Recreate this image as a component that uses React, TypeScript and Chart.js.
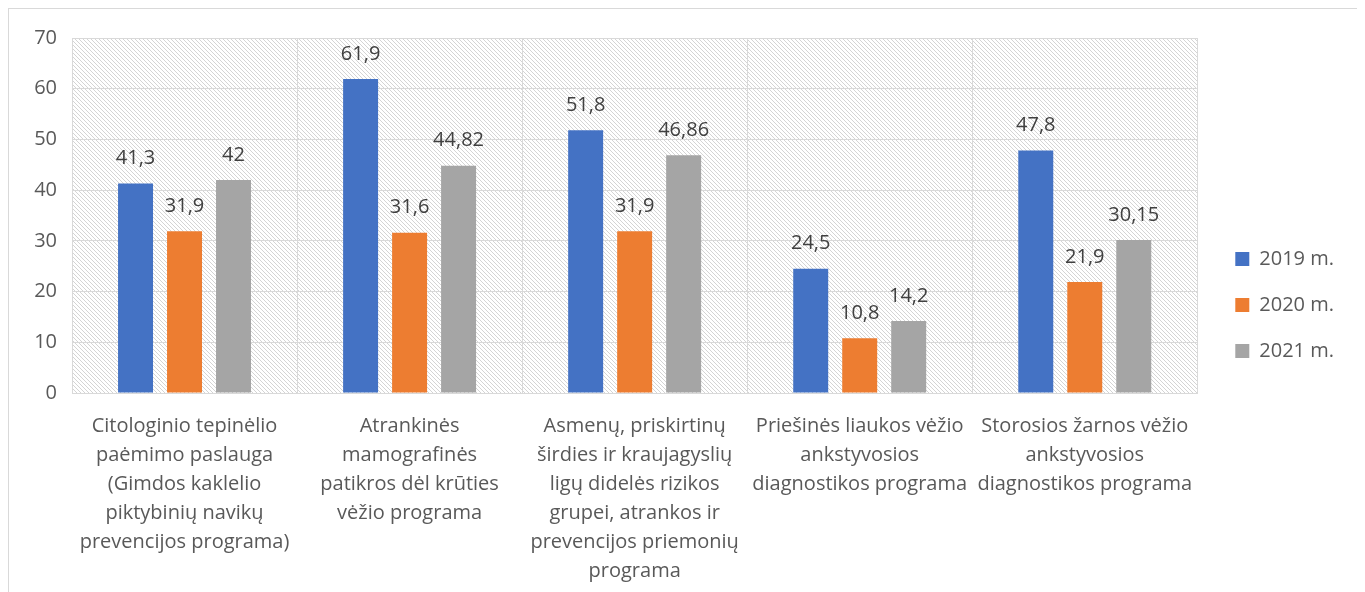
import React, { useEffect, useRef } from "react";
import { Chart, registerables } from "chart.js";

Chart.register(...registerables);

const categories: string[][] = [
  ["Citologinio tepinėlio", "paėmimo paslauga", "(Gimdos kaklelio", "piktybinių navikų", "prevencijos programa)"],
  ["Atrankinės", "mamografinės", "patikros dėl krūties", "vėžio programa"],
  ["Asmenų, priskirtinų", "širdies ir kraujagyslių", "ligų didelės rizikos", "grupei, atrankos ir", "prevencijos priemonių", "programa"],
  ["Priešinės liaukos vėžio", "ankstyvosios", "diagnostikos programa"],
  ["Storosios žarnos vėžio", "ankstyvosios", "diagnostikos programa"],
];

const seriesNames = ["2019 m.", "2020 m.", "2021 m."];
const values2019 = [41.3, 61.9, 51.8, 24.5, 47.8];
const values2020 = [31.9, 31.6, 31.9, 10.8, 21.9];
const values2021 = [42, 44.82, 46.86, 14.2, 30.15];
const seriesColors = ["#4472C4", "#ED7D31", "#A5A5A5"];

const yMin = 0;
const yMax = 70;
const yStep = 10;

const FONT = "'Open Sans', sans-serif";
const TEXT = "#595959";
const GRID = "#d9d9d9";

function makePattern(ctx: CanvasRenderingContext2D): CanvasPattern | string {
  const c = document.createElement("canvas");
  c.width = 8;
  c.height = 8;
  const p = c.getContext("2d");
  if (!p) return "#ffffff";
  p.fillStyle = "#ffffff";
  p.fillRect(0, 0, 8, 8);
  p.fillStyle = "#d4d4d4";
  for (let y = 0; y < 8; y++) {
    for (let x = 0; x < 8; x++) {
      if ((((x - y) % 4) + 4) % 4 === 0) p.fillRect(x, y, 1, 1);
    }
  }
  return ctx.createPattern(c, "repeat") || "#ffffff";
}

const hatchPlugin = {
  id: "hatchBg",
  beforeDraw(chart: any) {
    const { ctx, chartArea } = chart;
    if (!chartArea) return;
    ctx.save();
    ctx.fillStyle = makePattern(ctx);
    ctx.fillRect(chartArea.left, chartArea.top, chartArea.right - chartArea.left, chartArea.bottom - chartArea.top);
    ctx.restore();
  },
};

const valueLabelPlugin = {
  id: "valueLabels",
  afterDatasetsDraw(chart: any) {
    const { ctx } = chart;
    ctx.save();
    ctx.font = `20px ${FONT}`;
    ctx.fillStyle = "#404040";
    ctx.textAlign = "center";
    ctx.textBaseline = "middle";
    chart.data.datasets.forEach((ds: any, i: number) => {
      const meta = chart.getDatasetMeta(i);
      meta.data.forEach((bar: any, j: number) => {
        const v = ds.data[j];
        const txt = String(v).replace(".", ",");
        ctx.fillText(txt, bar.x, bar.y - 25);
      });
    });
    ctx.restore();
  },
};

export default function App() {
  const ref = useRef<HTMLCanvasElement | null>(null);

  useEffect(() => {
    if (!ref.current) return;
    const chart = new Chart(ref.current, {
      type: "bar",
      data: {
        labels: categories,
        datasets: [
          { label: seriesNames[0], data: values2019, backgroundColor: seriesColors[0], yAxisID: "y" },
          { label: seriesNames[1], data: values2020, backgroundColor: seriesColors[1], yAxisID: "y" },
          { label: seriesNames[2], data: values2021, backgroundColor: seriesColors[2], yAxisID: "y" },
        ],
      },
      options: {
        responsive: false,
        animation: false,
        devicePixelRatio: 1,
        layout: { padding: { top: 29, left: 0, right: 15, bottom: 0 } },
        datasets: { bar: { categoryPercentage: 0.653, barPercentage: 0.714 } },
        plugins: {
          tooltip: { enabled: false },
          legend: {
            position: "right",
            align: "start",
            title: {
              display: true,
              text: " ",
              font: { family: FONT, size: 20, lineHeight: "24px" },
              padding: { top: 161, bottom: 0 },
            },
            labels: {
              boxWidth: 14,
              boxHeight: 14,
              padding: 26,
              color: TEXT,
              font: { family: FONT, size: 20 },
            },
          },
        },
        scales: {
          x: {
            grid: { color: GRID, drawTicks: false, offset: true },
            border: { color: GRID },
            ticks: {
              color: TEXT,
              font: { family: FONT, size: 20, lineHeight: "29px" },
              padding: 19,
              maxRotation: 0,
              autoSkip: false,
            },
            afterFit: (s: any) => {
              s.height = 208;
            },
          },
          y: {
            min: yMin,
            max: yMax,
            grid: { color: GRID, drawTicks: false },
            border: { color: GRID },
            ticks: {
              stepSize: yStep,
              color: TEXT,
              font: { family: FONT, size: 20 },
              padding: 15,
            },
            afterFit: (s: any) => {
              s.width = 63;
            },
          },
          yPad: {
            type: "linear",
            position: "right",
            display: true,
            grid: { display: false },
            border: { display: false },
            ticks: { display: false },
            afterFit: (s: any) => {
              s.width = 12;
            },
          },
        },
      },
      plugins: [hatchPlugin, valueLabelPlugin],
    } as any);
    return () => chart.destroy();
  }, []);

  return (
    <div style={{ border: "1px solid #d9d9d9", width: 1350, height: 600, overflow: "hidden" }}>
      <canvas ref={ref} width={1350} height={592} style={{ display: "block", width: 1350, height: 592 }} />
    </div>
  );
}
